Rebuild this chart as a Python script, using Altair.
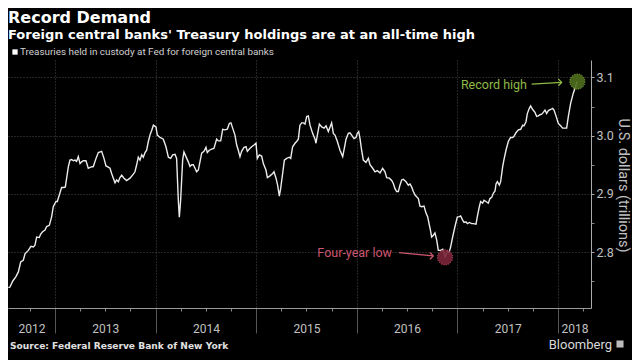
import altair as alt
import pandas as pd

# ---- series: Treasuries held in custody at Fed for foreign central banks ----
# decimal year / US$ trillions
t_2012_13 = [2012.536, 2012.553, 2012.579, 2012.612, 2012.636, 2012.659, 2012.685, 2012.702, 2012.735, 2012.761,
             2012.785, 2012.801, 2012.818, 2012.844, 2012.858, 2012.877, 2012.901, 2012.917, 2012.944, 2012.967,
             2012.983, 2013.010, 2013.023, 2013.043, 2013.066, 2013.090, 2013.103, 2013.133, 2013.149, 2013.166,
             2013.182, 2013.199, 2013.215, 2013.232, 2013.249, 2013.265, 2013.282, 2013.308, 2013.331, 2013.355,
             2013.381, 2013.408, 2013.431, 2013.464, 2013.487, 2013.507, 2013.530, 2013.547, 2013.563, 2013.580,
             2013.597, 2013.613, 2013.630, 2013.646, 2013.663, 2013.686, 2013.712, 2013.746, 2013.779, 2013.795,
             2013.812, 2013.828, 2013.845, 2013.862, 2013.878, 2013.895, 2013.911, 2013.928, 2013.944, 2013.961,
             2013.978]
v_2012_13 = [2.739, 2.740, 2.750, 2.758, 2.766, 2.783, 2.786, 2.797, 2.803, 2.810,
             2.809, 2.812, 2.826, 2.825, 2.831, 2.835, 2.838, 2.844, 2.846, 2.861,
             2.878, 2.887, 2.887, 2.898, 2.911, 2.911, 2.912, 2.947, 2.958, 2.959,
             2.957, 2.958, 2.956, 2.964, 2.952, 2.955, 2.957, 2.957, 2.944, 2.946,
             2.947, 2.961, 2.971, 2.973, 2.961, 2.948, 2.946, 2.944, 2.935, 2.927,
             2.919, 2.924, 2.921, 2.928, 2.932, 2.927, 2.923, 2.927, 2.934, 2.938,
             2.950, 2.963, 2.958, 2.967, 2.963, 2.971, 2.975, 2.990, 3.001, 3.009,
             3.018]

t_2014_15 = [2014.004, 2014.017, 2014.044, 2014.077, 2014.103, 2014.127, 2014.150, 2014.170, 2014.193, 2014.209,
             2014.226, 2014.236, 2014.249, 2014.269, 2014.282, 2014.302, 2014.325, 2014.342, 2014.359, 2014.375,
             2014.392, 2014.408, 2014.425, 2014.441, 2014.458, 2014.481, 2014.501, 2014.514, 2014.534, 2014.557,
             2014.580, 2014.607, 2014.624, 2014.647, 2014.667, 2014.690, 2014.713, 2014.733, 2014.749, 2014.766,
             2014.789, 2014.806, 2014.822, 2014.839, 2014.855, 2014.879, 2014.899, 2014.912, 2014.932, 2014.955,
             2014.978, 2014.998, 2015.011, 2015.031, 2015.054, 2015.071, 2015.097, 2015.111, 2015.137, 2015.164,
             2015.177, 2015.197, 2015.213, 2015.230, 2015.243, 2015.263, 2015.280, 2015.303, 2015.329, 2015.343,
             2015.362, 2015.386, 2015.402, 2015.419, 2015.435, 2015.452, 2015.469, 2015.485, 2015.502, 2015.518]
v_2014_15 = [3.015, 3.001, 2.997, 2.994, 2.981, 2.963, 2.961, 2.967, 2.968, 2.961,
             2.889, 2.860, 2.889, 2.958, 2.972, 2.964, 2.955, 2.947, 2.950, 2.950,
             2.944, 2.938, 2.941, 2.955, 2.970, 2.973, 2.980, 2.971, 2.975, 2.977,
             2.978, 2.994, 2.991, 2.991, 3.011, 3.010, 3.011, 3.021, 3.022, 3.013,
             3.001, 2.984, 2.975, 2.964, 2.973, 2.980, 2.981, 2.973, 2.977, 2.981,
             2.984, 2.987, 2.961, 2.967, 2.965, 2.952, 2.941, 2.928, 2.931, 2.935,
             2.938, 2.927, 2.915, 2.896, 2.909, 2.935, 2.958, 2.961, 2.963, 2.961,
             2.981, 2.987, 2.990, 2.994, 3.018, 3.022, 3.022, 3.020, 3.033, 3.034]

t_2015_16 = [2015.535, 2015.561, 2015.585, 2015.594, 2015.608, 2015.628, 2015.651, 2015.674, 2015.694, 2015.717,
             2015.734, 2015.750, 2015.767, 2015.783, 2015.807, 2015.833, 2015.860, 2015.876, 2015.893, 2015.916,
             2015.932, 2015.949, 2015.972, 2015.992, 2016.005, 2016.019, 2016.032, 2016.048, 2016.065, 2016.091,
             2016.115, 2016.131, 2016.158, 2016.181, 2016.204, 2016.231, 2016.257, 2016.280, 2016.297, 2016.323,
             2016.347, 2016.363, 2016.380, 2016.396, 2016.413, 2016.429, 2016.446, 2016.463, 2016.489, 2016.512,
             2016.529, 2016.545, 2016.562, 2016.579, 2016.595, 2016.612, 2016.628, 2016.645, 2016.668, 2016.688,
             2016.704, 2016.728, 2016.744, 2016.761, 2016.777, 2016.794, 2016.810, 2016.834, 2016.854, 2016.867,
             2016.877, 2016.887, 2016.900, 2016.917, 2016.933, 2016.953, 2016.976]
v_2015_16 = [3.018, 3.004, 2.994, 2.987, 3.001, 3.020, 3.015, 3.013, 3.017, 3.007,
             3.015, 3.022, 3.004, 3.001, 2.990, 2.975, 2.964, 2.978, 2.994, 3.004,
             3.005, 3.001, 2.995, 2.997, 3.004, 3.007, 2.995, 2.975, 2.958, 2.954,
             2.961, 2.950, 2.944, 2.938, 2.940, 2.936, 2.944, 2.938, 2.928, 2.927,
             2.923, 2.918, 2.909, 2.904, 2.904, 2.915, 2.924, 2.925, 2.921, 2.915,
             2.917, 2.912, 2.904, 2.898, 2.895, 2.892, 2.879, 2.878, 2.879, 2.867,
             2.861, 2.841, 2.826, 2.829, 2.833, 2.821, 2.803, 2.803, 2.805, 2.798,
             2.792, 2.796, 2.801, 2.799, 2.809, 2.826, 2.844]

t_2017_18 = [2016.999, 2017.019, 2017.032, 2017.052, 2017.066, 2017.085, 2017.099, 2017.119, 2017.142, 2017.158,
             2017.185, 2017.198, 2017.218, 2017.231, 2017.251, 2017.264, 2017.284, 2017.307, 2017.324, 2017.341,
             2017.357, 2017.374, 2017.384, 2017.397, 2017.417, 2017.430, 2017.450, 2017.463, 2017.483, 2017.506,
             2017.529, 2017.549, 2017.563, 2017.582, 2017.606, 2017.629, 2017.649, 2017.662, 2017.682, 2017.695,
             2017.715, 2017.728, 2017.748, 2017.771, 2017.788, 2017.804, 2017.821, 2017.838, 2017.854, 2017.871,
             2017.887, 2017.904, 2017.927, 2017.947, 2017.960, 2017.980, 2018.003, 2018.026, 2018.046, 2018.070,
             2018.086, 2018.103, 2018.126, 2018.152, 2018.179, 2018.192]
v_2017_18 = [2.860, 2.861, 2.862, 2.855, 2.851, 2.852, 2.849, 2.851, 2.849, 2.849,
             2.848, 2.861, 2.878, 2.887, 2.884, 2.889, 2.887, 2.884, 2.892, 2.894,
             2.901, 2.905, 2.917, 2.921, 2.915, 2.921, 2.947, 2.959, 2.975, 2.990,
             2.997, 2.997, 2.999, 3.005, 3.010, 3.011, 3.018, 3.017, 3.024, 3.038,
             3.047, 3.051, 3.045, 3.040, 3.033, 3.034, 3.036, 3.037, 3.040, 3.044,
             3.038, 3.043, 3.045, 3.047, 3.044, 3.034, 3.021, 3.017, 3.013, 3.013,
             3.013, 3.033, 3.056, 3.073, 3.087, 3.093]

# axis ticks / labels
year_labels = ["2012", "2013", "2014", "2015", "2016", "2017", "2018"]
year_bounds = [2013, 2014, 2015, 2016, 2017, 2018]
label_pos = [2012.766, 2013.5, 2014.5, 2015.5, 2016.5, 2017.5, 2018.164]
quarter_ticks = [2012.75, 2013.25, 2013.5, 2013.75, 2014.25, 2014.5, 2014.75, 2015.25, 2015.5, 2015.75,
                 2016.25, 2016.5, 2016.75, 2017.25, 2017.5, 2017.75, 2018.25]
y_ticks = [2.8, 2.9, 3.0, 3.1]
y_minor = [2.75, 2.85, 2.95, 3.05]

# annotations (data coordinates)
low_point = (2016.877, 2.791)
high_point = (2018.192, 3.093)

df = pd.DataFrame({"year": t_2012_13 + t_2014_15 + t_2015_16 + t_2017_18,
                   "value": v_2012_13 + v_2014_15 + v_2015_16 + v_2017_18})

W, H = 583, 248
FONT = "Roboto"
BOLD = "DejaVu Sans"
xs = alt.Scale(domain=[2012.533, 2018.328], nice=False, zero=False)
ys = alt.Scale(domain=[2.704, 3.130], nice=False, zero=False)

line = alt.Chart(df).mark_line(color="#ececec", strokeWidth=1.4).encode(
    x=alt.X("year:Q", scale=xs, axis=alt.Axis(
        orient="bottom", values=year_bounds, labels=False, grid=True, gridColor="#4a4a4a",
        gridDash=[1, 2], ticks=True, tickSize=25, tickColor="#555555", domainColor="#999999",
        title=None)),
    y=alt.Y("value:Q", scale=ys, axis=alt.Axis(
        orient="right", values=y_ticks, grid=True, gridColor="#4a4a4a", gridDash=[1, 2],
        tickSize=3, tickColor="#aaaaaa", domainColor="#aaaaaa", labelColor="#c0c0c0",
        labelFontSize=12.5, labelFont=FONT, labelPadding=2, format=".1f",
        title="U.S. dollars (trillions)", titleColor="#c0c0c0", titleFont=FONT,
        titleFontSize=14.5, titleFontWeight="normal", titleAngle=90, titleX=31, titleY=125,
        titleAlign="center", titleBaseline="middle")),
)

label_df = pd.DataFrame({"year": label_pos, "value": [2.75] * len(label_pos), "lab": year_labels})
year_axis = alt.Chart(label_df).mark_point(opacity=0).encode(
    x=alt.X("year:Q", scale=xs, axis=alt.Axis(
        orient="bottom", values=label_pos, labelExpr="toString(floor(datum.value))",
        ticks=False, tickSize=0, domain=False, grid=False, labelPadding=15,
        labelColor="#c0c0c0", labelFontSize=12, labelFont=FONT, labelFlush=False,
        labelOverlap=False, title=None)),
    y=alt.Y("value:Q", scale=ys, axis=None),
)

minor_df = pd.DataFrame({"year": [2013.0], "value": [2.9]})
minor_axis = alt.Chart(minor_df).mark_point(opacity=0).encode(
    x=alt.X("year:Q", scale=xs, axis=alt.Axis(
        orient="bottom", values=quarter_ticks, labels=False, ticks=True, tickSize=3,
        tickColor="#888888", domain=False, grid=False, title=None)),
    y=alt.Y("value:Q", scale=ys, axis=alt.Axis(
        orient="right", values=y_minor, labels=False, ticks=True, tickSize=3,
        tickColor="#888888", domain=False, grid=False, title=None)),
)


def annotation(label, point, text_end, arrow_start, arrow_end, color, fill):
    d = pd.DataFrame({"label": [label], "px": [point[0]], "py": [point[1]],
                      "tx": [text_end[0]], "ty": [text_end[1]],
                      "ax1": [arrow_start[0]], "ay1": [arrow_start[1]],
                      "ax2": [arrow_end[0]], "ay2": [arrow_end[1]]})
    base = alt.Chart(d)
    circ = base.mark_point(shape="circle", filled=True, size=230, fill=fill, stroke=color,
                           strokeWidth=1, strokeDash=[1, 1.5], opacity=1, fillOpacity=0.9).encode(
        x=alt.X("px:Q", scale=xs, axis=None), y=alt.Y("py:Q", scale=ys, axis=None))
    txt = base.mark_text(align="right", baseline="middle", font=FONT, fontSize=12.5, color=color).encode(
        x=alt.X("tx:Q", scale=xs, axis=None), y=alt.Y("ty:Q", scale=ys, axis=None), text="label:N")
    shaft = base.mark_rule(color=color, strokeWidth=1.3).encode(
        x=alt.X("ax1:Q", scale=xs, axis=None), x2="ax2:Q",
        y=alt.Y("ay1:Q", scale=ys, axis=None), y2="ay2:Q")
    head = base.mark_point(shape="M-1,-1L0,0L-1,1", filled=False, size=45, color=color,
                           strokeWidth=1.3, opacity=1).encode(
        x=alt.X("ax2:Q", scale=xs, axis=None), y=alt.Y("ay2:Q", scale=ys, axis=None))
    return [circ, shaft, head, txt]


low_layers = annotation("Four-year low", low_point, (2016.350, 2.799), (2016.42, 2.799),
                        (2016.76, 2.7935), "#cc566f", "#7c2539")
high_layers = annotation("Record high", high_point, (2017.692, 3.087), (2017.738, 3.0885),
                         (2018.036, 3.0915), "#8fba45", "#4f6e1c")


def label_text(text, x, y, size, weight="normal", color="white", align="left",
               baseline="alphabetic", font=FONT):
    return alt.Chart(pd.DataFrame({"t": [text]})).mark_text(
        align=align, baseline=baseline, font=font, fontSize=size, fontWeight=weight, color=color
    ).encode(x=alt.value(x), y=alt.value(y), text="t:N")


title = label_text("Record Demand", 0, -37.1, 16, "bold", font=BOLD)
subtitle = label_text("Foreign central banks' Treasury holdings are at an all-time high", 0, -21.1,
                      13.0, "bold", font=BOLD)
legend_sq = alt.Chart(pd.DataFrame({"k": [1]})).mark_square(color="white", size=28, opacity=1).encode(
    x=alt.value(7), y=alt.value(-8))
legend_txt = label_text("Treasuries held in custody at Fed for foreign central banks", 12, -8, 9.9,
                        color="#d0d0d0", baseline="middle")
source = label_text("Source: Federal Reserve Bank of New York", 2, 288.5, 9.1, "bold",
                    color="#e0e0e0", font=BOLD)
brand = label_text("Bloomberg", 604, 288.5, 13, color="#d8d8d8", align="right")
brand_logo = alt.Chart(pd.DataFrame({"k": [1]})).mark_square(color="#bbbbbb", size=50, opacity=1).encode(
    x=alt.value(612), y=alt.value(284))

chart = alt.layer(
    line, year_axis, minor_axis, *low_layers, *high_layers,
    title, subtitle, legend_sq, legend_txt, source, brand, brand_logo
).resolve_axis(x="independent", y="independent").properties(
    width=W, height=H,
    padding={"left": 0, "top": 52, "right": 41, "bottom": 52},
    autosize=alt.AutoSizeParams(type="none"),
    background="black",
).configure_view(stroke=None)

chart.save("out.html", embed_options={"renderer": "svg", "actions": False})
